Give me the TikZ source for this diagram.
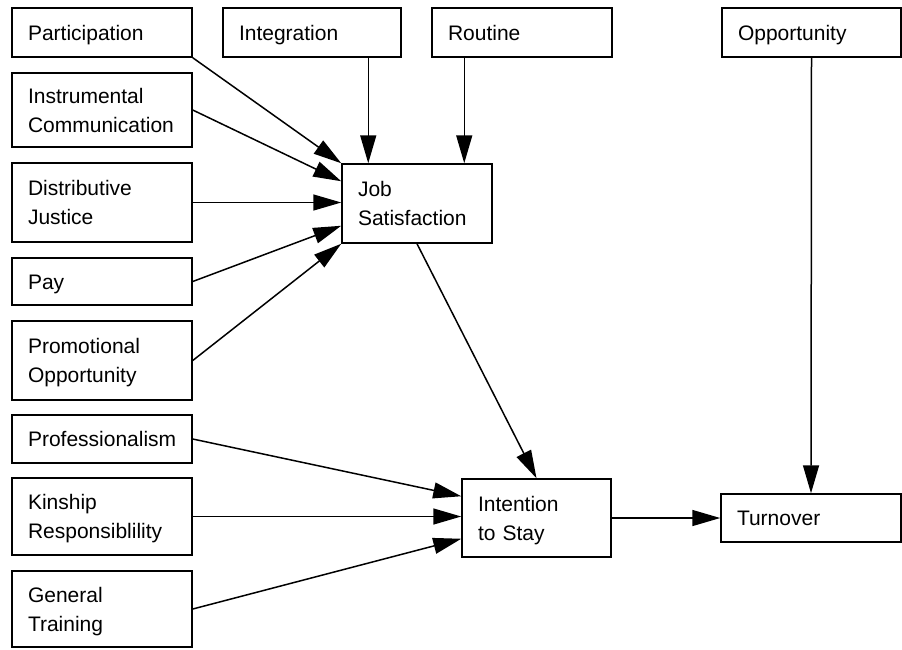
\documentclass[tikz,border=0pt]{standalone}
\usepackage{fontspec}
\setmainfont{Liberation Sans}
\usetikzlibrary{arrows.meta}
\hyphenpenalty=10000
\exhyphenpenalty=10000
% uniform line strut: 22pt above the baseline, 7pt below
\newcommand\lnst{\rule[-7pt]{0pt}{29pt}}
\begin{document}
\begin{tikzpicture}[x=1pt,y=-1pt,
  box/.style={draw, line width=1.5pt, inner sep=0pt, align=left,
    font=\fontsize{21}{29}\selectfont},
  link/.style={line width=1.5pt, -{Triangle[length=28pt,width=16pt]}}]
\useasboundingbox (0,0) rectangle (902,649);

% top row
\node[box, minimum width=180pt, minimum height=49pt, text width=148pt] (part)  at (102,32.5)   {\lnst Participation};
\node[box, minimum width=178pt, minimum height=49pt, text width=146pt] (integ) at (312,32.5)   {\lnst Integration};
\node[box, minimum width=180pt, minimum height=49pt, text width=148pt] (rout)  at (522,32.5)   {\lnst Routine};
\node[box, minimum width=179pt, minimum height=49pt, text width=147pt] (opp)   at (811.5,32.5) {\lnst Opportunity};

% left column
\node[box, minimum width=180pt, minimum height=74pt, text width=148pt] (instr) at (102,110)   {\lnst Instrumental\\\lnst Communication};
\node[box, minimum width=180pt, minimum height=79pt, text width=148pt] (dist)  at (102,202.5) {\lnst Distributive\\\lnst Justice};
\node[box, minimum width=180pt, minimum height=47pt, text width=148pt] (pay)   at (102,281.5) {\lnst Pay};
\node[box, minimum width=180pt, minimum height=79pt, text width=148pt] (promo) at (102,360.5) {\lnst Promotional\\\lnst Opportunity};
\node[box, minimum width=180pt, minimum height=48pt, text width=148pt] (prof)  at (102,439)   {\lnst Professionalism};
\node[box, minimum width=180pt, minimum height=77pt, text width=148pt] (kin)   at (102,516.5) {\lnst Kinship\\\lnst Responsiblility};
\node[box, minimum width=180pt, minimum height=76pt, text width=148pt] (gen)   at (102,609)   {\lnst General\\\lnst Training};

% outcomes
\node[box, minimum width=150pt, minimum height=79pt, text width=118pt] (js)    at (417,203.5) {\lnst Job\\\lnst Satisfaction};
\node[box, minimum width=149pt, minimum height=78pt, text width=117pt] (int)   at (536.5,518) {\lnst Intention\\\lnst to Stay};
\node[box, minimum width=180pt, minimum height=48pt, text width=148pt] (turn)  at (811,518)   {\lnst Turnover};

% entry points on the top of job satisfaction
\coordinate (jsI) at ([xshift=27pt]js.north west);
\coordinate (jsR) at ([xshift=123pt]js.north west);

% paths into job satisfaction
\draw[link] (part.south east) -- (js.north west);
\draw[link] (instr.east) -- ([yshift=-18pt]js.north west);
\draw[link] (dist.east) -- (dist.east -| js.west);
\draw[link] (pay.east) -- ([yshift=18pt]js.south west);
\draw[link] (promo.east) -- (js.south west);
\draw[link] (jsI |- integ.south) -- (jsI);
\draw[link] (jsR |- rout.south) -- (jsR);

% paths into intention to stay
\draw[link] (js.south) -- (int.north);
\draw[link] (prof.east) -- ([yshift=-18pt]int.north west);
\draw[link] (kin.east) -- (kin.east -| int.west);
\draw[link] (gen.east) -- ([yshift=19pt]int.south west);

% paths into turnover
\draw[link] (int.east) -- (turn.west);
\draw[link] (opp.south) -- (turn.north);
\end{tikzpicture}
\end{document}
